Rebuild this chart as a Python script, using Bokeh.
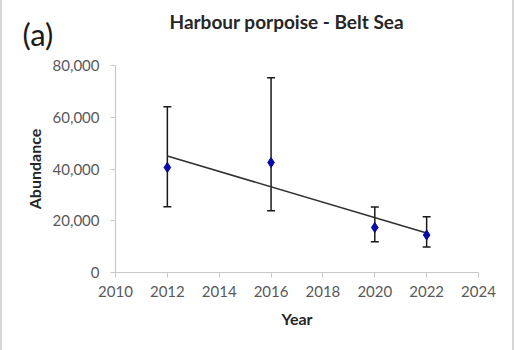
import math
from bokeh.plotting import figure
from bokeh.models import ColumnDataSource, Whisker, TeeHead, Title, NumeralTickFormatter, FixedTicker
from bokeh.embed import file_html
from bokeh.resources import INLINE

# ---- data ----
years = [2012, 2016, 2020, 2022]
abundance = [40600, 42500, 17400, 14500]
lower = [25400, 23900, 11900, 9900]
upper = [64100, 75300, 25300, 21500]
trend_years = [2012, 2022]
trend_abundance = [45000, 15300]
x_ticks = [2010, 2012, 2014, 2016, 2018, 2020, 2022, 2024]
y_ticks = [0, 20000, 40000, 60000, 80000]
title_text = "Harbour porpoise - Belt Sea"
panel_text = "(a)"
x_label = "Year"
y_label = "Abundance"

FONT = "Lato"
W, H = 514, 350
L, R, T, B = 113, 38, 59, 78

p = figure(width=W, height=H, output_backend="svg", toolbar_location=None,
           x_range=(2010, 2024), y_range=(0, 80000),
           min_border_left=L, min_border_right=R, min_border_top=T, min_border_bottom=B)
p.outline_line_color = None
p.xgrid.visible = False
p.ygrid.visible = False
p.background_fill_color = "white"
p.border_fill_color = "white"
p.styles = {"border-left": "2px solid #d6d6d6", "border-right": "2px solid #d6d6d6",
            "box-sizing": "border-box"}

for ax in (p.xaxis[0], p.yaxis[0]):
    ax.axis_line_color = "#c8c8c8"
    ax.axis_line_width = 1.2
    ax.major_tick_line_color = "#c8c8c8"
    ax.major_tick_in = 0
    ax.major_tick_out = 5
    ax.minor_tick_line_color = None
    ax.major_label_text_font = FONT
    ax.major_label_text_font_size = "15px"
    ax.major_label_text_color = "#595959"
    ax.axis_label_text_font = FONT
    ax.axis_label_text_font_size = "16px"
    ax.axis_label_text_font_style = "bold"
    ax.axis_label_text_color = "#262626"

p.xaxis.ticker = FixedTicker(ticks=x_ticks)
p.yaxis.ticker = FixedTicker(ticks=y_ticks)
p.yaxis.formatter = NumeralTickFormatter(format="0,0")
p.xaxis.formatter = NumeralTickFormatter(format="0")
p.xaxis.major_label_standoff = 8
p.yaxis.major_label_standoff = 11
p.xaxis.axis_label = x_label
p.yaxis.axis_label = y_label
p.xaxis.axis_label_standoff = 9
p.yaxis.axis_label_standoff = 6

p.title.text = title_text
p.title.align = "left"
p.title.offset = 54
p.title.standoff = -65
p.title.text_font = FONT
p.title.text_font_size = "19px"
p.title.text_font_style = "bold"
p.title.text_color = "#262626"

p.add_layout(Title(text=panel_text, align="left", offset=-93, standoff=25, text_font=FONT,
                   text_font_size="31px", text_font_style="normal",
                   text_color="#1a1a1a"), "above")

src = ColumnDataSource(dict(year=years, abundance=abundance, lower=lower, upper=upper))

p.line(trend_years, trend_abundance, line_color="#303030", line_width=1.6)

wh = Whisker(source=src, base="year", lower="lower", upper="upper",
             line_color="#1a1a1a", line_width=1.5,
             upper_head=TeeHead(size=8, line_color="#1a1a1a", line_width=1.5),
             lower_head=TeeHead(size=8, line_color="#1a1a1a", line_width=1.5))
p.add_layout(wh)

p.scatter("year", "abundance", source=src, marker="diamond", size=10,
          fill_color="#0a0aa8", line_color="#0a0aa8")

open("out.html", "w").write(file_html(p, INLINE))
